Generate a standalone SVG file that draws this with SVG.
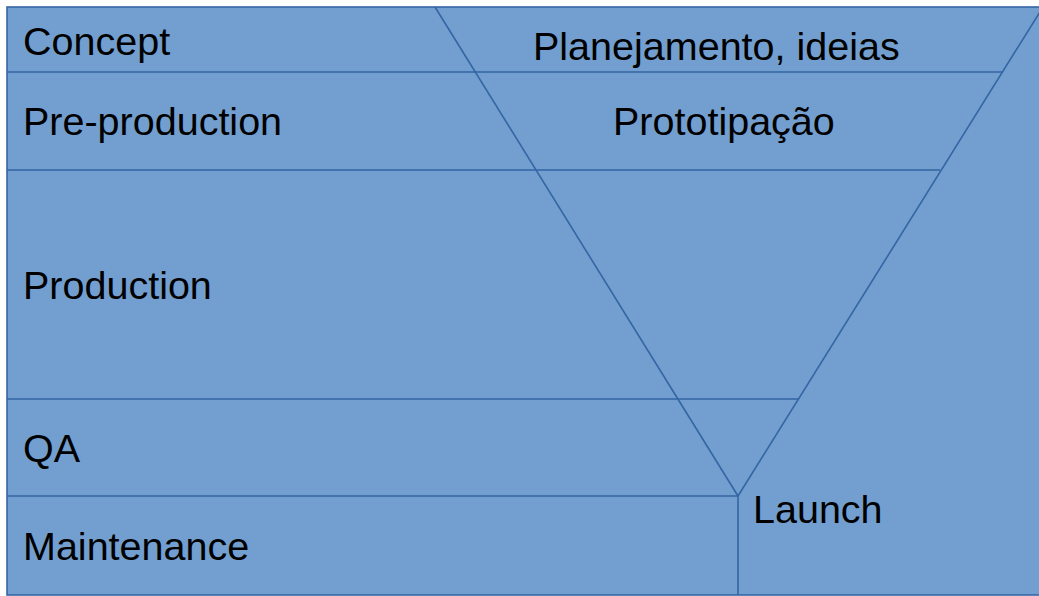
<svg xmlns="http://www.w3.org/2000/svg" width="1039" height="596" viewBox="0 0 1039 596">
<style>
.ln{stroke:#3465a4;stroke-width:1.6;fill:none}
.t{font-family:"Liberation Sans",Arial,sans-serif;font-size:39.5px;fill:#000}
</style>
<rect x="0" y="0" width="1039" height="596" fill="#fff"/>
<g id="frame">
<rect x="7" y="7" width="1040" height="588" fill="#729fcf" stroke="#3465a4" stroke-width="1.6"/>
</g>
<g id="connectors">
<line class="ln" x1="7" y1="72" x2="1002" y2="72"/>
<line class="ln" x1="7" y1="170" x2="940" y2="170"/>
<line class="ln" x1="7" y1="399" x2="798" y2="399"/>
<line class="ln" x1="7" y1="496" x2="738" y2="496"/>
<line class="ln" x1="435" y1="7" x2="738" y2="496"/>
<line class="ln" x1="1043" y1="7" x2="738" y2="496"/>
<line class="ln" x1="738" y1="496" x2="738" y2="595"/>
</g>
<g id="concept"><text class="t" x="23" y="55">Concept</text></g>
<g id="preproduction"><text class="t" x="23" y="135">Pre-production</text></g>
<g id="production"><text class="t" x="23" y="299">Production</text></g>
<g id="qa"><text class="t" x="23" y="462">QA</text></g>
<g id="maintenance"><text class="t" x="23" y="560">Maintenance</text></g>
<g id="planejamento"><text class="t" x="533" y="60">Planejamento, ideias</text></g>
<g id="prototipacao"><text class="t" x="613" y="135">Prototipação</text></g>
<g id="launch"><text class="t" x="753" y="523">Launch</text></g>
</svg>
